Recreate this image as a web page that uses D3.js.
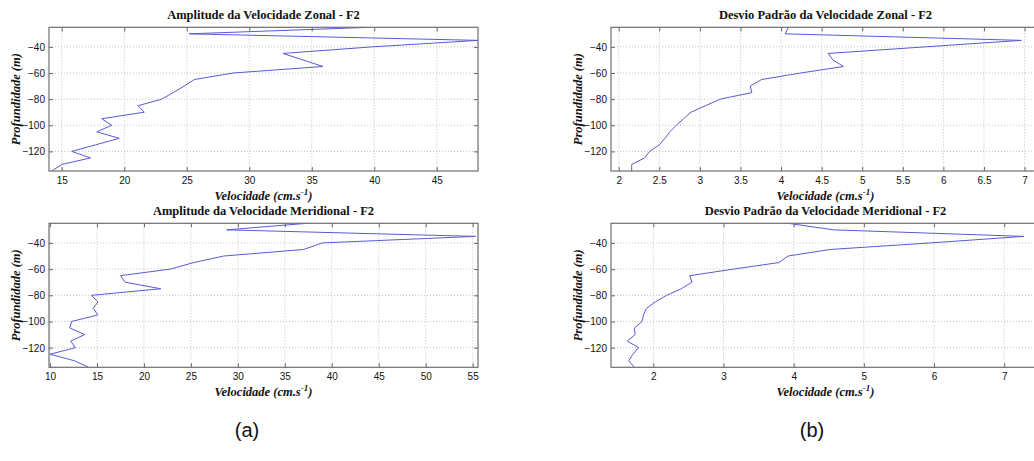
<!DOCTYPE html>
<html><head><meta charset="utf-8">
<script src="https://cdn.jsdelivr.net/npm/d3@7"></script>
<style>
body{margin:0;background:#fff;}
svg{display:block;}
.tick text{font-family:"Liberation Sans",Arial,sans-serif;font-size:10px;fill:#111;}
</style></head>
<body><svg id="c" width="1034" height="461"></svg>
<script>
// ---- data (depth in m, velocity in cm/s) ----
const depths = [-25,-30,-35,-40,-45,-50,-55,-60,-65,-70,-75,-80,-85,-90,-95,-100,-105,-110,-115,-120,-125,-130,-135];
const ampZonal = [39.7,25.2,48.3,39.8,32.7,34.3,35.9,28.7,25.6,24.8,23.9,23.0,21.1,21.6,18.2,19.0,17.8,19.6,17.7,15.8,17.3,15.0,14.2];
const sdZonal  = [4.09,4.05,6.96,5.77,4.58,4.64,4.77,4.24,3.76,3.62,3.64,3.25,3.07,2.89,2.80,2.71,2.63,2.57,2.50,2.38,2.32,2.16,2.16];
const ampMerid = [37.4,28.8,55.3,39.0,37.0,28.5,25.3,22.8,17.5,18.0,21.8,14.4,15.1,14.6,15.1,12.3,12.1,13.7,12.2,12.7,10.0,12.6,14.1];
const sdMerid  = [3.92,4.57,7.28,5.95,4.52,3.92,3.79,3.14,2.52,2.55,2.40,2.19,2.03,1.90,1.86,1.84,1.73,1.74,1.63,1.79,1.71,1.65,1.73];

const titles = ["Amplitude da Velocidade Zonal - F2","Desvio Padrão da Velocidade Zonal - F2",
                "Amplitude da Velocidade Meridional - F2","Desvio Padrão da Velocidade Meridional - F2"];
const xTicksA1 = [15,20,25,30,35,40,45];
const xTicksB1 = [2,2.5,3,3.5,4,4.5,5,5.5,6,6.5,7];
const xTicksA2 = [10,15,20,25,30,35,40,45,50,55];
const xTicksB2 = [2,3,4,5,6,7];
const yTicks = [-40,-60,-80,-100,-120];
const yDomain = [-135,-25];
const yLabel = "Profundidade (m)";
const xLabel = "Velocidade (cm.s";
const panelLabels = ["(a)","(b)"];

const panels = [
  {vals: ampZonal, title: titles[0], xd:[13.98,48.3], ticks:xTicksA1, box:[49,478,27.3,171]},
  {vals: sdZonal,  title: titles[1], xd:[1.905,7.19], ticks:xTicksB1, box:[611,1040,27.3,171]},
  {vals: ampMerid, title: titles[2], xd:[9.89,55.57], ticks:xTicksA2, box:[49,478,223.3,367.3]},
  {vals: sdMerid,  title: titles[3], xd:[1.397,7.51], ticks:xTicksB2, box:[611,1040,223.3,367.3]}
];

const svg = d3.select("#c");
const serif = "'Liberation Serif','Times New Roman',serif";

panels.forEach((p,i)=>{
  const [L,R,T,B] = p.box;
  const x = d3.scaleLinear().domain(p.xd).range([L,R]);
  const y = d3.scaleLinear().domain(yDomain).range([B,T]);
  const g = svg.append("g");
  const clipId = "clip"+i;
  g.append("clipPath").attr("id",clipId).append("rect").attr("x",L).attr("y",T).attr("width",R-L).attr("height",B-T);

  // grid
  const grid = g.append("g").attr("stroke","#b4b4b4").attr("stroke-width",0.8).attr("stroke-dasharray","1,2");
  grid.selectAll("line.v").data(p.ticks).join("line")
    .attr("x1",d=>x(d)).attr("x2",d=>x(d)).attr("y1",T).attr("y2",B);
  grid.selectAll("line.h").data(yTicks).join("line")
    .attr("x1",L).attr("x2",R).attr("y1",d=>y(d)).attr("y2",d=>y(d));

  // axes
  const fmt = d3.format("");
  const ax = g.append("g").attr("transform",`translate(0,${B})`)
    .call(d3.axisBottom(x).tickValues(p.ticks).tickFormat(fmt).tickSizeInner(-4).tickSizeOuter(0).tickPadding(6));
  const axT = g.append("g").attr("transform",`translate(0,${T})`)
    .call(d3.axisTop(x).tickValues(p.ticks).tickFormat("").tickSizeInner(-4).tickSizeOuter(0));
  const ay = g.append("g").attr("transform",`translate(${L},0)`)
    .call(d3.axisLeft(y).tickValues(yTicks).tickFormat(fmt).tickSizeInner(-4).tickSizeOuter(0).tickPadding(4));
  const ayR = g.append("g").attr("transform",`translate(${R},0)`)
    .call(d3.axisRight(y).tickValues(yTicks).tickFormat("").tickSizeInner(-4).tickSizeOuter(0));
  [ax,axT,ay,ayR].forEach(a=>{
    a.select(".domain").remove();
    a.selectAll(".tick line").attr("stroke","#666");
  });
  ay.selectAll(".tick text").attr("dy","0.35em");

  // line
  const line = d3.line().x(d=>x(d[0])).y(d=>y(d[1]));
  g.append("path").attr("clip-path",`url(#${clipId})`)
    .datum(p.vals.map((v,k)=>[v,depths[k]]))
    .attr("fill","none").attr("stroke","#5a5ad2").attr("stroke-width",1).attr("d",line);

  // box
  g.append("rect").attr("x",L).attr("y",T).attr("width",R-L).attr("height",B-T)
    .attr("fill","none").attr("stroke","#6e6e6e").attr("stroke-width",1.2);

  const cx = (L+R)/2;
  // title
  g.append("text").attr("x",cx).attr("y",T-8).attr("text-anchor","middle")
    .attr("font-family",serif).attr("font-weight","bold").attr("font-size",12.5).attr("fill","#111").text(p.title);
  // x label
  const xl = g.append("text").attr("x",cx).attr("y",B+29).attr("text-anchor","middle")
    .attr("font-family",serif).attr("font-weight","bold").attr("font-style","italic").attr("font-size",12.5).attr("fill","#111");
  xl.append("tspan").text(xLabel);
  xl.append("tspan").attr("dy",-5).attr("font-size",9).text("-1");
  xl.append("tspan").attr("dy",5).text(")");
  // y label
  g.append("text").attr("transform",`translate(${L-33},${(T+B)/2}) rotate(-90)`).attr("text-anchor","middle")
    .attr("font-family",serif).attr("font-weight","bold").attr("font-style","italic").attr("font-size",12.5).attr("fill","#111")
    .attr("dy","0.35em").text(yLabel);
});

svg.selectAll("text.pl").data(panelLabels).join("text").attr("class","pl")
  .attr("x",(d,i)=>i===0?247:812).attr("y",437).attr("text-anchor","middle")
  .attr("font-family","'Liberation Sans',Arial,sans-serif").attr("font-size",20).attr("fill","#111").text(d=>d);
</script></body></html>
